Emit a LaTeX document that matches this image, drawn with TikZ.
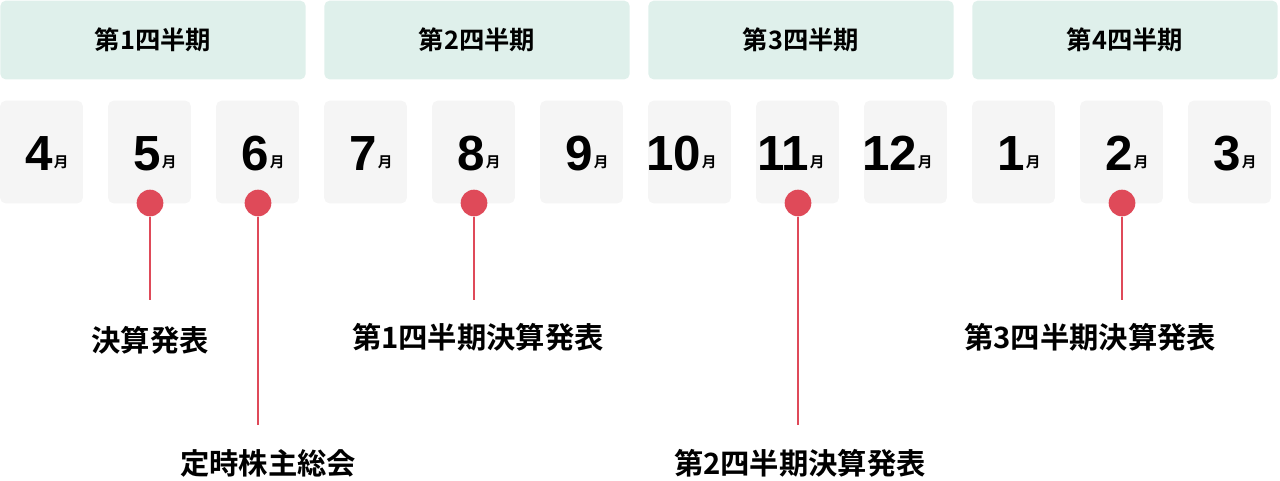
\documentclass[tikz,border=0pt]{standalone}
\usepackage{fontspec}
\setmainfont{Liberation Sans}
\newfontfamily\jp{Noto Sans CJK JP}[BoldFont={Noto Sans CJK JP Bold}]
\definecolor{hdr}{HTML}{DFF0EB}
\definecolor{mon}{HTML}{F5F5F5}
\definecolor{dotc}{HTML}{DF4A59}
\begin{document}
\begin{tikzpicture}[x=0.75pt,y=-0.75pt,
  hbox/.style={fill=hdr,rounded corners=4pt,minimum width=229pt,minimum height=59pt,inner sep=0pt,font=\jp\bfseries\fontsize{19}{22}\selectfont},
  mbox/.style={fill=mon,rounded corners=4pt,minimum width=62pt,minimum height=77pt,inner sep=0pt},
  dotn/.style={circle,fill=dotc,minimum size=20pt,inner sep=0pt},
  lbl/.style={font=\jp\bfseries\fontsize{22}{26}\selectfont,inner sep=0pt},
  conn/.style={draw=dotc,line width=2.2pt}]
\useasboundingbox (0,0) rectangle (1280,480);
\node[hbox] (q1) at (153,40) {第1四半期};
\node[hbox] (q2) at (477,40) {第2四半期};
\node[hbox] (q3) at (801,40) {第3四半期};
\node[hbox] (q4) at (1125,40) {第4四半期};
\foreach \m [count=\i from 0] in {4,5,6,7,8,9,10,11,12,1,2,3}{
  \node[mbox] (m\i) at (41.5+108*\i,152) {};
  \node[inner sep=0pt,anchor=base east] at (41.5+108*\i+12,170) {\bfseries\fontsize{37}{40}\selectfont\m};
  \node[inner sep=0pt,anchor=base west] at (41.5+108*\i+12,167) {\jp\bfseries\fontsize{11}{12}\selectfont 月};
}
\node[dotn] (d5) at (150,203) {};
\node[dotn] (d6) at (258,203) {};
\node[dotn] (d8) at (474,203) {};
\node[dotn] (d11) at (798,203) {};
\node[dotn] (d2) at (1122,203) {};
\coordinate (e5) at (150,300);
\coordinate (e6) at (258,425);
\coordinate (e8) at (474,300);
\coordinate (e11) at (798,425);
\coordinate (e2) at (1122,300);
\foreach \a/\b in {d5/e5,d6/e6,d8/e8,d11/e11,d2/e2}{\draw[conn] (\a) -- (\b);}
\node[lbl] (l1) at (150,340) {決算発表};
\node[lbl] (l2) at (268,463) {定時株主総会};
\node[lbl] (l3) at (478,337) {第1四半期決算発表};
\node[lbl] (l4) at (800,463) {第2四半期決算発表};
\node[lbl] (l5) at (1090,337) {第3四半期決算発表};
\end{tikzpicture}
\end{document}
